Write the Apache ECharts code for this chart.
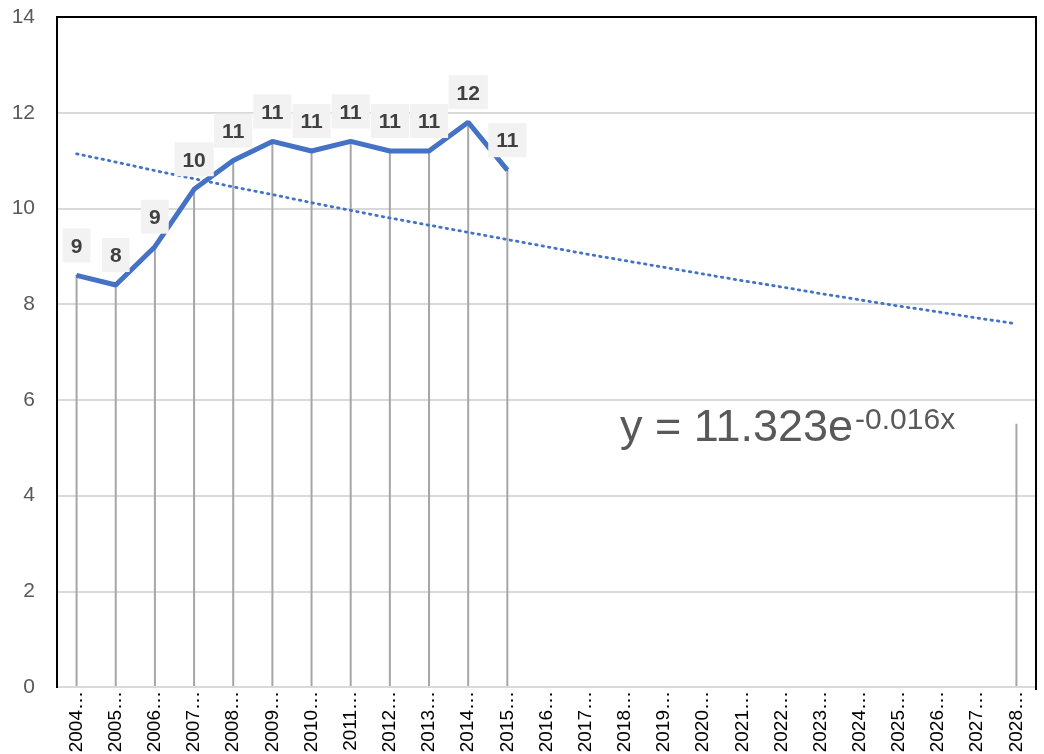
<!DOCTYPE html>
<html><head><meta charset="utf-8">
<script src="https://cdn.jsdelivr.net/npm/echarts@6/dist/echarts.min.js"></script>
<style>html,body{margin:0;padding:0;background:#fff}#c{width:1044px;height:754px}</style>
</head><body><div id="c"></div>
<script>
const categories = ['2004…','2005…','2006…','2007…','2008…','2009…','2010…','2011…','2012…','2013…','2014…','2015…','2016…','2017…','2018…','2019…','2020…','2021…','2022…','2023…','2024…','2025…','2026…','2027…','2028…'];
const values = [8.6, 8.4, 9.2, 10.4, 11.0, 11.4, 11.2, 11.4, 11.2, 11.2, 11.8, 10.8];
const trendValues = [11.14, 10.97, 10.79, 10.62, 10.45, 10.29, 10.12, 9.96, 9.80, 9.65, 9.50, 9.35, 9.20, 9.05, 8.91, 8.77, 8.63, 8.49, 8.36, 8.22, 8.09, 7.96, 7.84, 7.71, 7.59];
const extraDrop = { category: '2028…', value: 5.5 };
const yTicks = { min: 0, max: 14, interval: 2 };
const equationText = ['y = 11.323e', '-0.016x'];

const dropData = categories.map((c, i) => i < values.length ? values[i] : (c === extraDrop.category ? extraDrop.value : null));
const FONT = '"Liberation Sans", Arial, sans-serif';
const NARROW = '"Liberation Sans Narrow", "Liberation Sans", sans-serif';

const mctx = document.createElement('canvas').getContext('2d');
mctx.font = '45px ' + FONT;
const mainW = mctx.measureText(equationText[0]).width;

const chart = echarts.init(document.getElementById('c'), null, {renderer: 'canvas'});
chart.setOption({
  animation: false,
  grid: { left: 57, right: 8, top: 17, bottom: 67, show: false, containLabel: false, outerBoundsMode: 'none' },
  xAxis: {
    type: 'category', data: categories, boundaryGap: true,
    axisLine: { show: true, lineStyle: { color: '#d9d9d9', width: 2 } },
    axisTick: { show: false },
    axisLabel: { rotate: 90, color: '#000', fontSize: 19, fontFamily: NARROW, margin: 4, interval: 0 },
    splitLine: { show: false }, z: 5
  },
  yAxis: {
    type: 'value', min: yTicks.min, max: yTicks.max, interval: yTicks.interval,
    axisLine: { show: false }, axisTick: { show: false },
    axisLabel: { color: '#595959', fontSize: 21, fontFamily: FONT, margin: 22 },
    splitLine: { show: true, lineStyle: { color: '#d9d9d9', width: 2 } }
  },
  series: [
    {
      type: 'bar', data: dropData, barWidth: 2, barGap: '-100%',
      itemStyle: { color: '#a6a6a6' }, z: 2, silent: true
    },
    {
      type: 'line', data: trendValues, showSymbol: false, symbol: 'none',
      lineStyle: { color: '#4472c4', width: 2.8, type: [1.5, 5], cap: 'round' }, z: 3
    },
    {
      type: 'line', data: values, showSymbol: true, showAllSymbol: true, symbol: 'circle', symbolSize: 2,
      itemStyle: { color: '#4472c4' },
      lineStyle: { color: '#4472c4', width: 5 }, z: 4,
      label: {
        show: true, position: 'top', distance: 12,
        formatter: p => String(Math.round(p.value)),
        color: '#404040', fontWeight: 'bold', fontSize: 21, fontFamily: FONT,
        backgroundColor: '#f2f2f2', padding: [8, 8, 5, 8]
      },
      labelLayout: { hideOverlap: false }
    }
  ],
  graphic: [
    {
      type: 'polyline', z: 20, silent: true,
      shape: { points: [[57, 688], [57, 17], [1036, 17], [1036, 690]] },
      style: { stroke: '#000', lineWidth: 2, fill: null }
    },
    {
      type: 'text', x: 620, y: 429, z: 10,
      style: { text: equationText[0], fontSize: 45, fontFamily: FONT, fill: '#595959', verticalAlign: 'middle', align: 'left' }
    },
    {
      type: 'text', x: 620 + mainW + 2, y: 421, z: 10,
      style: { text: equationText[1], fontSize: 30, fontFamily: FONT, fill: '#595959', verticalAlign: 'middle', align: 'left' }
    }
  ]
});
</script></body></html>
